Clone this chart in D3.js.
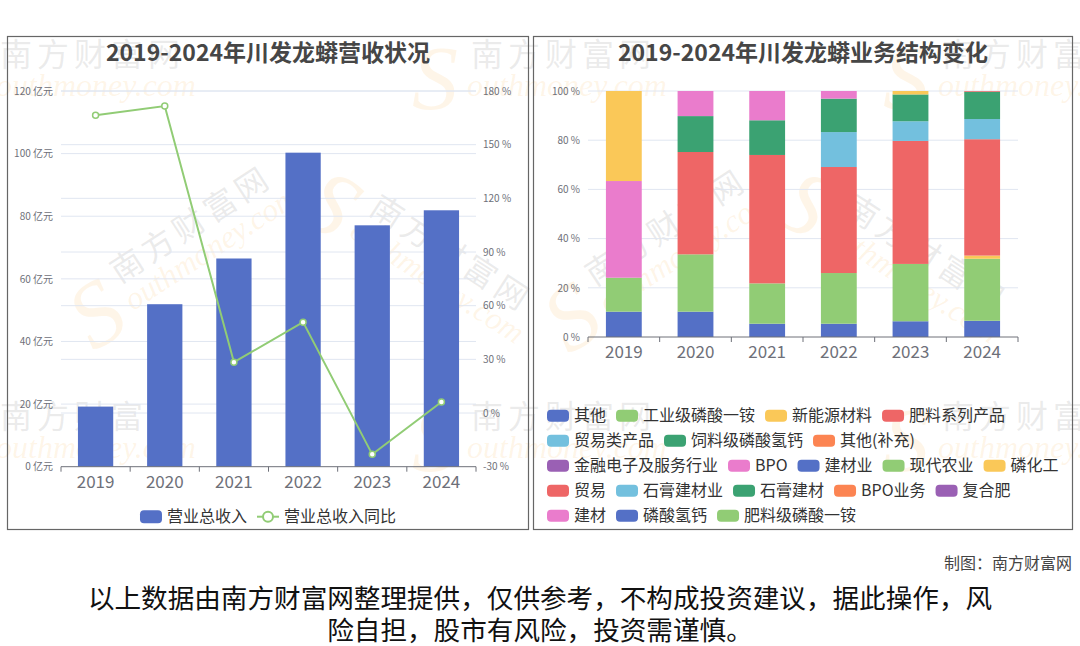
<!DOCTYPE html>
<html>
<head>
<meta charset="utf-8">
<script src="https://cdn.jsdelivr.net/npm/d3@7"></script>
<style>
  body { margin: 0; background: #fff; }
  svg { display: block; font-family: "Noto Sans CJK SC", "Noto Sans", sans-serif; }
</style>
</head>
<body>
<svg id="chart" width="1080" height="646"></svg>
<script>
// ---- data ----
const years = ["2019", "2020", "2021", "2022", "2023", "2024"];
const revenue = [19.2, 51.9, 66.5, 100.3, 77.1, 81.9];          // 亿元
const revenueYoY = [166.4, 171.6, 28.4, 50.8, -23.1, 6.2];      // %
const revenueTicks = [0, 20, 40, 60, 80, 100, 120];
const yoyTicks = [-30, 0, 30, 60, 90, 120, 150, 180];
const shareTicks = [0, 20, 40, 60, 80, 100];

const segmentNames = ["其他", "工业级磷酸一铵", "新能源材料", "肥料系列产品", "贸易类产品",
  "饲料级磷酸氢钙", "其他(补充)", "金融电子及服务行业", "BPO", "建材业", "现代农业", "磷化工",
  "贸易", "石膏建材业", "石膏建材", "BPO业务", "复合肥", "建材", "磷酸氢钙", "肥料级磷酸一铵"];

// share of revenue (%) per segment, one row per segment, one column per year
const segmentShares = [
  [10.3, 10.3, 5.4, 5.4, 6.4, 6.6],     // 其他
  [13.8, 23.3, 16.4, 20.6, 23.3, 25.2], // 工业级磷酸一铵
  [0, 0, 0, 0, 0, 1.3],                 // 新能源材料
  [0, 41.6, 52.2, 43.1, 50.0, 47.3],    // 肥料系列产品
  [0, 0, 0, 14.2, 8.0, 8.2],            // 贸易类产品
  [0, 14.6, 14.1, 13.6, 10.9, 11.1],    // 饲料级磷酸氢钙
  [0, 0, 0, 0, 0, 0],                   // 其他(补充)
  [0, 0, 0, 0, 0, 0],                   // 金融电子及服务行业
  [39.3, 10.2, 11.9, 3.1, 0, 0],        // BPO
  [0, 0, 0, 0, 0, 0],                   // 建材业
  [0, 0, 0, 0, 0, 0],                   // 现代农业
  [36.6, 0, 0, 0, 1.4, 0],              // 磷化工
  [0, 0, 0, 0, 0, 0.3],                 // 贸易
  [0, 0, 0, 0, 0, 0],                   // 石膏建材业
  [0, 0, 0, 0, 0, 0],                   // 石膏建材
  [0, 0, 0, 0, 0, 0],                   // BPO业务
  [0, 0, 0, 0, 0, 0],                   // 复合肥
  [0, 0, 0, 0, 0, 0],                   // 建材
  [0, 0, 0, 0, 0, 0],                   // 磷酸氢钙
  [0, 0, 0, 0, 0, 0]                    // 肥料级磷酸一铵
];

const palette = ["#5470c6", "#91cc75", "#fac858", "#ee6666", "#73c0de",
  "#3ba272", "#fc8452", "#9a60b4", "#ea7ccc"];

const svg = d3.select("#chart");
const axisColor = "#6e7079";
const gridColor = "#e0e6f1";

// ---- faint site watermarks (drawn first, under the charts) ----
const marks = [
  [91, 55, 0], [562, 55, 0], [1033, 55, 0],
  [91, 417, 0], [562, 417, 0], [1033, 417, 0],
  [190, 225, -33], [665, 228, -33], [450, 253, 33], [925, 253, 33]
];
const wm = svg.append("g").attr("pointer-events", "none");
marks.forEach(([mx, my, a]) => {
  const g = wm.append("g").attr("transform", `translate(${mx},${my}) rotate(${a})`);
  g.append("text").attr("x", -91).attr("dy", "0.35em")
    .attr("font-size", 32).attr("letter-spacing", 5)
    .attr("fill", "#999").attr("fill-opacity", 0.2).text("南方财富网");
  g.append("text").attr("x", -150).attr("y", 22).attr("dy", "0.35em")
    .attr("font-family", "\"Liberation Serif\", serif").attr("font-style", "italic")
    .attr("font-size", 92).attr("fill", "#f9b24e").attr("fill-opacity", 0.13).text("S");
  g.append("text").attr("x", -95).attr("y", 30).attr("dy", "0.35em")
    .attr("font-family", "\"Liberation Serif\", serif").attr("font-style", "italic")
    .attr("font-size", 32).attr("fill", "#f9b24e").attr("fill-opacity", 0.13).text("outhmoney.com");
});

// ---- panel frames ----
svg.append("rect").attr("x", 7.5).attr("y", 36.5).attr("width", 521).attr("height", 493)
  .attr("fill", "none").attr("stroke", "#666").attr("stroke-width", 1.2);
svg.append("rect").attr("x", 533.5).attr("y", 36.5).attr("width", 539).attr("height", 493)
  .attr("fill", "none").attr("stroke", "#666").attr("stroke-width", 1.2);

function title(x, text) {
  svg.append("text").attr("x", x).attr("y", 53).attr("dy", "0.35em")
    .attr("text-anchor", "middle").attr("font-size", 23).attr("font-weight", "bold")
    .attr("fill", "#464646").text(text);
}
title(268, "2019-2024年川发龙蟒营收状况");
title(803, "2019-2024年川发龙蟒业务结构变化");

function styleAxis(g, size) {
  g.select(".domain").remove();
  g.selectAll("text").attr("fill", axisColor).attr("font-size", size)
    .attr("font-family", "\"Noto Sans CJK SC\", sans-serif");
}

function boundaryTicks(g, x, y0) {
  const [r0] = x.range();
  g.selectAll(null).data(d3.range(x.domain().length + 1)).join("line")
    .attr("x1", i => r0 + i * x.step()).attr("x2", i => r0 + i * x.step())
    .attr("y1", y0).attr("y2", y0 + 5).attr("stroke", axisColor);
}

// ---- left chart: revenue + yoy ----
const xL = d3.scaleBand().domain(years).range([61, 476]);
const yL = d3.scaleLinear().domain([0, 120]).range([466.7, 91]);
const yR = d3.scaleLinear().domain([-30, 180]).range([466.7, 91]);

const left = svg.append("g");
left.append("g").selectAll("line").data(revenueTicks.filter(t => t > 0)).join("line")
  .attr("x1", 61).attr("x2", 476).attr("y1", d => yL(d)).attr("y2", d => yL(d))
  .attr("stroke", gridColor);
left.append("g").selectAll("line").data(yoyTicks.filter(t => t > -30)).join("line")
  .attr("x1", 61).attr("x2", 476).attr("y1", d => yR(d)).attr("y2", d => yR(d))
  .attr("stroke", gridColor);

left.append("g").attr("transform", "translate(61,0)")
  .call(d3.axisLeft(yL).tickValues(revenueTicks).tickSize(0).tickPadding(8)
    .tickFormat(d => d + " 亿元"))
  .call(g => styleAxis(g, 10));
left.append("g").attr("transform", "translate(476,0)")
  .call(d3.axisRight(yR).tickValues(yoyTicks).tickSize(0).tickPadding(7)
    .tickFormat(d => d + " %"))
  .call(g => styleAxis(g, 10));

const barW = xL.bandwidth() * 0.51;
left.append("g").selectAll("rect").data(years.map((y, i) => ({ year: y, v: revenue[i] }))).join("rect")
  .attr("x", d => xL(d.year) + (xL.bandwidth() - barW) / 2)
  .attr("width", barW)
  .attr("y", d => yL(d.v))
  .attr("height", d => yL(0) - yL(d.v))
  .attr("fill", "#5470c6");

left.append("line").attr("x1", 61).attr("x2", 476).attr("y1", yL(0)).attr("y2", yL(0))
  .attr("stroke", axisColor);
boundaryTicks(left.append("g"), xL, yL(0));
left.append("g").attr("transform", `translate(0,${yL(0)})`)
  .call(d3.axisBottom(xL).tickSize(0).tickPadding(9))
  .call(g => styleAxis(g, 17));

const yoyPts = years.map((y, i) => ({ year: y, v: revenueYoY[i] }));
const cx = d => xL(d.year) + xL.bandwidth() / 2;
left.append("path").datum(yoyPts)
  .attr("d", d3.line().x(cx).y(d => yR(d.v)))
  .attr("fill", "none").attr("stroke", "#91cc75").attr("stroke-width", 2);
left.append("g").selectAll("circle").data(yoyPts).join("circle")
  .attr("cx", cx).attr("cy", d => yR(d.v)).attr("r", 3)
  .attr("fill", "#fff").attr("stroke", "#91cc75").attr("stroke-width", 1.5);

// left legend
{
  const lg = svg.append("g");
  const ly = 516.7;
  const t1 = lg.append("text").attr("font-size", 16).attr("fill", "#333").attr("dy", "0.35em").attr("y", ly).text("营业总收入");
  const t2 = lg.append("text").attr("font-size", 16).attr("fill", "#333").attr("dy", "0.35em").attr("y", ly).text("营业总收入同比");
  const w1 = t1.node().getComputedTextLength(), w2 = t2.node().getComputedTextLength();
  const total = 22 + 5 + w1 + 10 + 22 + 5 + w2;
  let x = 268 - total / 2;
  lg.append("rect").attr("x", x).attr("y", ly - 6.5).attr("width", 22).attr("height", 13)
    .attr("rx", 4).attr("fill", "#5470c6");
  t1.attr("x", x + 27);
  x += 27 + w1 + 10;
  lg.append("line").attr("x1", x).attr("x2", x + 22).attr("y1", ly).attr("y2", ly)
    .attr("stroke", "#91cc75").attr("stroke-width", 2);
  lg.append("circle").attr("cx", x + 11).attr("cy", ly).attr("r", 5)
    .attr("fill", "#fff").attr("stroke", "#91cc75").attr("stroke-width", 2);
  t2.attr("x", x + 27);
}

// ---- right chart: business structure ----
const xS = d3.scaleBand().domain(years).range([588, 1018]);
const yS = d3.scaleLinear().domain([0, 100]).range([337, 91]);
const right = svg.append("g");

right.append("g").selectAll("line").data(shareTicks.filter(t => t > 0)).join("line")
  .attr("x1", 588).attr("x2", 1018).attr("y1", d => yS(d)).attr("y2", d => yS(d))
  .attr("stroke", gridColor);
right.append("g").attr("transform", "translate(588,0)")
  .call(d3.axisLeft(yS).tickValues(shareTicks).tickSize(0).tickPadding(8)
    .tickFormat(d => d + " %"))
  .call(g => styleAxis(g, 10));

const rows = years.map((y, i) => {
  const r = { year: y };
  segmentNames.forEach((n, k) => { r[n] = segmentShares[k][i]; });
  return r;
});
const stacked = d3.stack().keys(segmentNames)(rows);
const sBarW = xS.bandwidth() * 0.5;
right.append("g").selectAll("g").data(stacked).join("g")
  .attr("fill", (d, i) => palette[i % palette.length])
  .selectAll("rect").data(d => d.filter(p => p[1] - p[0] > 0)).join("rect")
  .attr("x", p => xS(p.data.year) + (xS.bandwidth() - sBarW) / 2)
  .attr("width", sBarW)
  .attr("y", p => yS(p[1]))
  .attr("height", p => yS(p[0]) - yS(p[1]));

right.append("line").attr("x1", 588).attr("x2", 1018).attr("y1", yS(0)).attr("y2", yS(0))
  .attr("stroke", axisColor);
boundaryTicks(right.append("g"), xS, yS(0));
right.append("g").attr("transform", `translate(0,${yS(0)})`)
  .call(d3.axisBottom(xS).tickSize(0).tickPadding(9))
  .call(g => styleAxis(g, 17));

// right legend, flowing rows
{
  const lg = svg.append("g");
  const x0 = 547, xMax = 1066;
  let x = x0, y = 415.7;
  segmentNames.forEach((n, i) => {
    const t = lg.append("text").attr("font-size", 16).attr("fill", "#333")
      .attr("dy", "0.35em").text(n);
    const w = 22 + 5 + t.node().getComputedTextLength();
    if (x + w > xMax) { x = x0; y += 25; }
    lg.append("rect").attr("x", x).attr("y", y - 6).attr("width", 22).attr("height", 12)
      .attr("rx", 4).attr("fill", palette[i % palette.length]);
    t.attr("x", x + 27).attr("y", y);
    x += w + 10;
  });
}

// ---- footer ----
svg.append("text").attr("x", 1072).attr("y", 563).attr("dy", "0.35em").attr("text-anchor", "end")
  .attr("font-size", 16).attr("fill", "#444").text("制图：南方财富网");
svg.append("text").attr("x", 540).attr("y", 599).attr("dy", "0.35em").attr("text-anchor", "middle")
  .attr("font-size", 26.6).attr("fill", "#111")
  .text("以上数据由南方财富网整理提供，仅供参考，不构成投资建议，据此操作，风");
svg.append("text").attr("x", 540).attr("y", 631).attr("dy", "0.35em").attr("text-anchor", "middle")
  .attr("font-size", 26.6).attr("fill", "#111")
  .text("险自担，股市有风险，投资需谨慎。");
</script>
</body>
</html>
